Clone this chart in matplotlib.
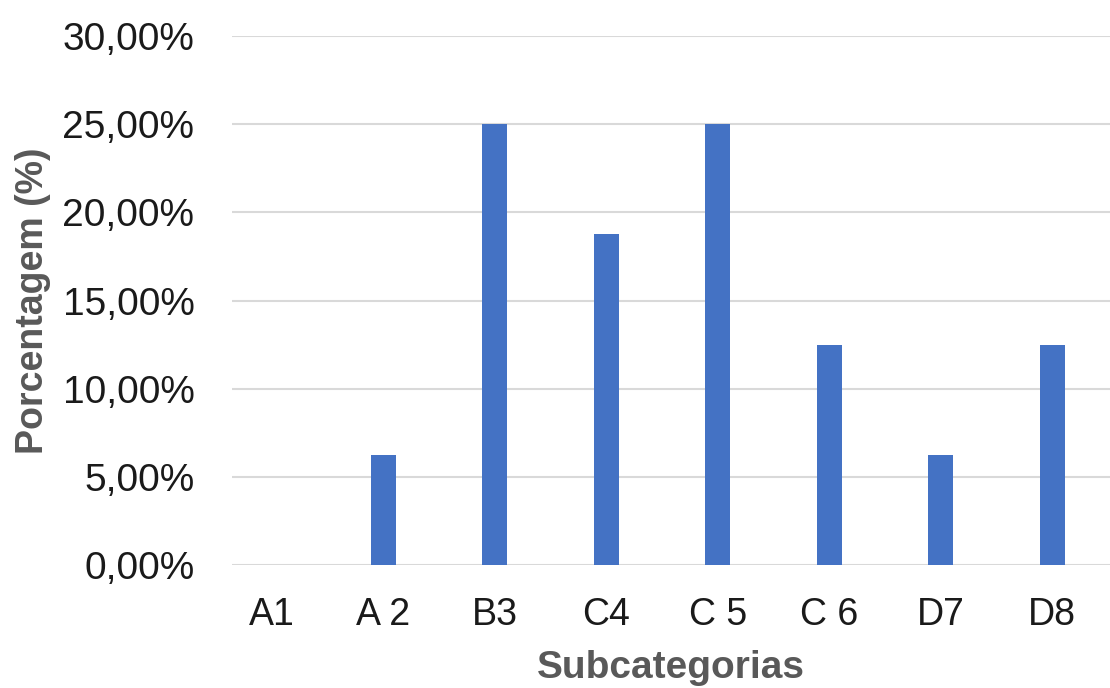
import matplotlib.pyplot as plt
from matplotlib.ticker import FuncFormatter, MultipleLocator

# Data
categories = ['A1', 'A 2', 'B3', 'C4', 'C 5', 'C 6', 'D7', 'D8']
percentages = [0.0, 6.25, 25.0, 18.75, 25.0, 12.5, 6.25, 12.5]

bar_color = '#4472C4'
grid_color = '#D9D9D9'
label_color = '#595959'

fig = plt.figure(figsize=(11.1, 6.88), dpi=100)
ax = fig.add_axes([232 / 1110, 1 - 565 / 688, 1 - 232 / 1110, (565 - 36) / 688])

x = range(len(categories))
ax.bar(x, percentages, width=0.225, color=bar_color, zorder=3)

ax.set_xlim(-0.36, 7.52)
ax.set_ylim(0, 30)
ax.yaxis.set_major_locator(MultipleLocator(5))
ax.yaxis.set_major_formatter(FuncFormatter(lambda v, p: f"{v:.2f}%".replace('.', ',')))

ax.set_xticks(list(x))
ax.set_xticklabels(categories, fontfamily='Liberation Sans', fontsize=27, color='#1a1a1a')
for t in ax.get_yticklabels():
    t.set_fontfamily('Liberation Sans')
    t.set_fontsize(28)
    t.set_color('#1a1a1a')

ax.tick_params(axis='both', length=0)
ax.tick_params(axis='y', pad=27)
ax.tick_params(axis='x', pad=23)

ax.grid(axis='y', color=grid_color, linewidth=1.5, zorder=0)
for s in ax.spines.values():
    s.set_visible(False)

ax.set_xlabel('Subcategorias', fontfamily='Liberation Sans', fontsize=28,
              fontweight='bold', color=label_color, labelpad=12)
ax.set_ylabel('Porcentagem (%)', fontfamily='Liberation Sans', fontsize=27,
              fontweight='bold', color=label_color, labelpad=8)

fig.savefig('out.png', dpi=100)
